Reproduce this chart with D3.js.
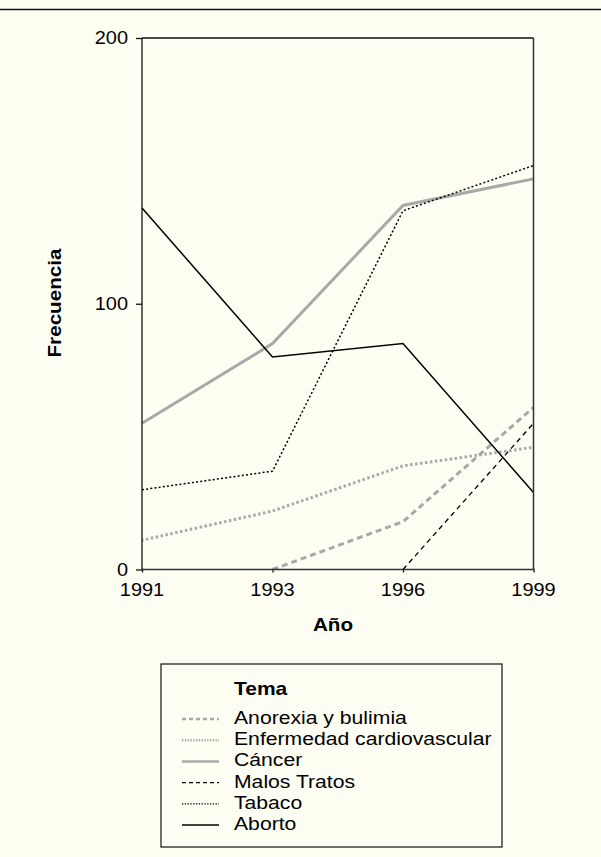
<!DOCTYPE html>
<html>
<head>
<meta charset="utf-8">
<script src="https://cdn.jsdelivr.net/npm/d3@7"></script>
<style>
  html, body { margin: 0; padding: 0; background: #fefef3; }
  svg { display: block; }
  text { font-family: "Liberation Sans", Arial, Helvetica, sans-serif; fill: #000; }
</style>
</head>
<body>
<svg id="chart" width="601" height="857"></svg>
<script>
// ---- data ----
const years = ["1991", "1993", "1996", "1999"];
const anorexia      = [null, 0, 18, 61];
const cardiovascular = [11, 22, 39, 46];
const cancer        = [55, 85, 137, 147];
const malosTratos   = [null, null, 0, 55];
const tabaco        = [30, 37, 135, 152];
const aborto        = [136, 80, 85, 29];
const yTicks = [0, 100, 200];
const seriesNames = ["Anorexia y bulimia", "Enfermedad cardiovascular", "Cáncer", "Malos Tratos", "Tabaco", "Aborto"];
const seriesValues = [anorexia, cardiovascular, cancer, malosTratos, tabaco, aborto];

// ---- styles ----
const styles = [
  { color: "#a9a9a9", width: 3,   dash: "6,4" },
  { color: "#a9a9a9", width: 3,   dash: "2.5,2.5" },
  { color: "#a9a9a9", width: 3,   dash: null },
  { color: "#000",    width: 1.3, dash: "5,4" },
  { color: "#000",    width: 1.5, dash: "2,2.2" },
  { color: "#000",    width: 1.5, dash: null }
];

const svg = d3.select("#chart");
svg.append("rect").attr("width", 601).attr("height", 857).attr("fill", "#fefef3");

// top rule
svg.append("line").attr("x1", 0).attr("x2", 601).attr("y1", 9.5).attr("y2", 9.5)
  .attr("stroke", "#111").attr("stroke-width", 1.5);

const pLeft = 142, pRight = 533.5, pTop = 38, pBottom = 569.5;
const x = d3.scalePoint().domain(years).range([pLeft, pRight]);
const y = d3.scaleLinear().domain([0, 200]).range([pBottom, pTop]);

function stretchedText(g, tx, ty, str, opts) {
  const sx = opts.sx || 1.16;
  return g.append("text")
    .attr("transform", `translate(${tx},${ty}) ${opts.rotate ? "rotate(" + opts.rotate + ")" : ""} scale(${sx},1)`)
    .attr("text-anchor", opts.anchor || "start")
    .style("font-size", (opts.size || 17) + "px")
    .style("font-weight", opts.bold ? "bold" : "normal")
    .text(str);
}

// axes (ticks only; labels drawn stretched)
const yAxis = d3.axisLeft(y).tickValues(yTicks).tickSize(6).tickFormat("");
const gy = svg.append("g").attr("transform", `translate(${pLeft},0)`).call(yAxis);
gy.select(".domain").remove();
gy.selectAll(".tick line").attr("stroke", "#111").attr("stroke-width", 1.3);

const xAxis = d3.axisBottom(x).tickSize(4).tickFormat("");
const gx = svg.append("g").attr("transform", `translate(0,${pBottom - 1})`).call(xAxis);
gx.select(".domain").remove();
gx.selectAll(".tick line").attr("stroke", "#111").attr("stroke-width", 1.3);

yTicks.forEach(v => {
  stretchedText(svg, 128, y(v) + 6, String(v), { anchor: "end", size: 17.5, sx: 1.14 });
});
years.forEach(yr => {
  stretchedText(svg, x(yr), 595.5, yr, { anchor: "middle", size: 17.5, sx: 1.14 });
});

// series lines
const line = d3.line()
  .defined(d => d.v !== null)
  .x(d => x(d.year))
  .y(d => y(d.v));

const gLines = svg.append("g");
seriesValues.forEach((vals, i) => {
  const data = years.map((yr, j) => ({ year: yr, v: vals[j] }));
  const s = styles[i];
  gLines.append("path")
    .datum(data)
    .attr("d", line)
    .attr("fill", "none")
    .attr("stroke", s.color)
    .attr("stroke-width", s.width)
    .attr("stroke-dasharray", s.dash)
    .attr("stroke-dashoffset", i === 1 ? -4 : 0)
    .attr("stroke-linejoin", "miter");
});

// frame
svg.append("line").attr("x1", pLeft).attr("x2", pRight).attr("y1", pTop).attr("y2", pTop)
  .attr("stroke", "#111").attr("stroke-width", 1.3);
svg.append("line").attr("x1", pLeft).attr("x2", pLeft).attr("y1", pTop).attr("y2", pBottom)
  .attr("stroke", "#111").attr("stroke-width", 1.3);
svg.append("line").attr("x1", pRight).attr("x2", pRight).attr("y1", pTop).attr("y2", pBottom)
  .attr("stroke", "#333").attr("stroke-width", 1.5);
svg.append("line").attr("x1", pLeft).attr("x2", pRight).attr("y1", pBottom).attr("y2", pBottom)
  .attr("stroke", "#333").attr("stroke-width", 1.5);

// axis titles
stretchedText(svg, 333, 631, "Año", { anchor: "middle", size: 17.5, bold: true, sx: 1.18 });
stretchedText(svg, 61, 303, "Frecuencia", { anchor: "middle", size: 17.5, bold: true, rotate: -90, sx: 1.18 });

// legend
const lg = svg.append("g");
lg.append("rect").attr("x", 161).attr("y", 664).attr("width", 341).attr("height", 183)
  .attr("fill", "none").attr("stroke", "#222").attr("stroke-width", 1.3);
stretchedText(lg, 234, 695, "Tema", { size: 17.5, bold: true, sx: 1.2 });
seriesNames.forEach((name, i) => {
  const by = 724 + i * 21.2;
  const s = styles[i];
  const sw = s.width === 3 ? 2.5 : 1.3;
  let dash = s.dash;
  if (i === 0) dash = "4,3";
  if (i === 1) dash = "1.3,1.5";
  if (i === 4) dash = "1.3,1.5";
  if (i === 3) dash = "4,3";
  lg.append("line")
    .attr("x1", 182).attr("x2", 219)
    .attr("y1", by - 5).attr("y2", by - 5)
    .attr("stroke", s.color)
    .attr("stroke-width", sw)
    .attr("stroke-dasharray", dash);
  stretchedText(lg, 234, by, name, { size: 17.5, sx: 1.21 });
});
</script>
</body>
</html>
